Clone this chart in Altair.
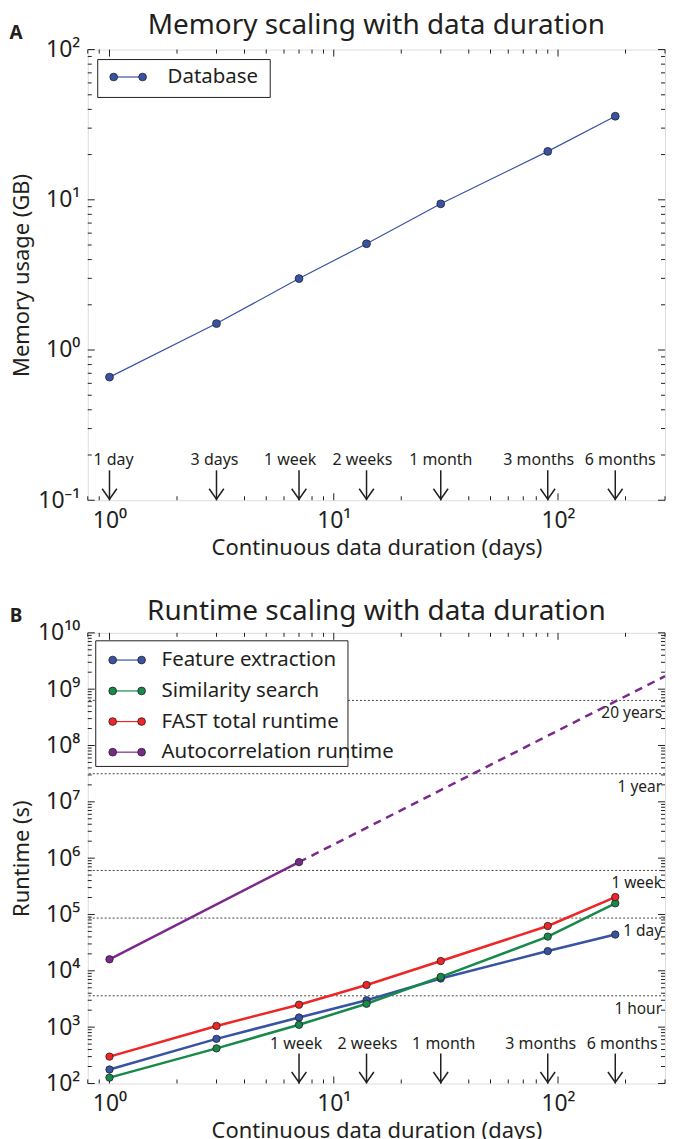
import altair as alt
import pandas as pd

# ---------------- data ----------------
days = [1, 3, 7, 14, 30, 90, 180]
duration_labels = ["1 day", "3 days", "1 week", "2 weeks", "1 month", "3 months", "6 months"]
memory_gb = [0.66, 1.50, 2.99, 5.1, 9.4, 21.0, 36.0]

feature_extraction_s = [177, 620, 1480, 3000, 7300, 22400, 44000]
similarity_search_s = [127, 420, 1100, 2600, 7800, 40500, 158000]
fast_total_s = [300, 1050, 2500, 5600, 14900, 62500, 204000]
autocorr_days = [1, 7]
autocorr_s = [1.6e4, 8.5e5]
autocorr_extrap_days = [7, 300]
autocorr_extrap_s = [8.5e5, 1.7e9]

series_names = ["Feature extraction", "Similarity search", "FAST total runtime", "Autocorrelation runtime"]
series_colors = ["#3953a4", "#17894a", "#ee2626", "#7b2a8b"]

b_arrow_days = [7, 14, 30, 90, 180]
b_arrow_labels = ["1 week", "2 weeks", "1 month", "3 months", "6 months"]

ref_labels = ["1 hour", "1 day", "1 week", "1 year", "20 years"]
ref_seconds = [3600, 86400, 604800, 31557600, 631152000]

x_major = [1, 10, 100]
ya_major = [0.1, 1, 10, 100]
yb_major = [1e2, 1e3, 1e4, 1e5, 1e6, 1e7, 1e8, 1e9, 1e10]

# ---------------- style / layout ----------------
FONT = "Noto Sans"
TXT = "#231f20"
AX = "#231f20"
EDGE = "#222222"
W, H = 579, 452
MAJ, MIN = 7, 4
# horizontal nudges (px) of the arrow captions, as in the original figure
a_label_dx = [4, -2, -9, -4, 0, -9, 5]
b_label_dx = [-3, 1, 3, -7, 7]


def minor_ticks(lo, hi, kmin, kmax):
    out = []
    for k in range(kmin, kmax + 1):
        for m in range(2, 10):
            v = m * 10.0 ** k
            if lo <= v <= hi:
                out.append(v)
    return out


x_minor = minor_ticks(0.8, 300, -1, 2)
ya_minor = minor_ticks(0.1, 100, -1, 1)
yb_minor = minor_ticks(1e2, 1e10, 2, 9)

SUP = {"-": "\u207b", "0": "\u2070", "1": "\u00b9", "2": "\u00b2", "3": "\u00b3",
       "4": "\u2074", "5": "\u2075", "6": "\u2076", "7": "\u2077", "8": "\u2078", "9": "\u2079"}


def sup_label(e):
    return "10" + "".join(SUP[c] for c in str(e))


label_expr = "".join(
    f"round(log(datum.value)/LN10) == {e} ? '{sup_label(e)}' : " for e in range(-1, 11)
) + "datum.label"

xs = alt.Scale(type="log", domain=[0.8, 300], nice=False)
ysa = alt.Scale(type="log", domain=[0.1, 100], nice=False)
ysb = alt.Scale(type="log", domain=[1e2, 1e10], nice=False)


def make_axis(title, values, orient):
    return alt.Axis(
        title=title, values=values, labelExpr=label_expr, ticks=False, domain=False,
        grid=False, labelFont=FONT, titleFont=FONT, labelFontSize=23, titleFontSize=22,
        labelColor=TXT, titleColor=TXT, titleFontWeight="normal",
        labelPadding=8 if orient == "y" else 9, titlePadding=4 if orient == "y" else 5,
        labelFlush=False, labelOverlap=False,
    )


x_axis = make_axis("Continuous data duration (days)", x_major, "x")
ya_axis = make_axis("Memory usage (GB)", ya_major, "y")
yb_axis = make_axis("Runtime (s)", yb_major, "y")


def X(f):
    return alt.X(f, type="quantitative", scale=xs, axis=x_axis)


def tick_layers(Y, xmaj, xmin, ymaj, ymin):
    layers = []
    for vals, L in [(xmaj, MAJ), (xmin, MIN)]:
        d = pd.DataFrame({"v": vals})
        layers.append(alt.Chart(d).mark_rule(color=AX, strokeWidth=1).encode(
            x=X("v"), y=alt.value(H), y2=alt.value(H - L)))
        layers.append(alt.Chart(d).mark_rule(color=AX, strokeWidth=1).encode(
            x=X("v"), y=alt.value(0), y2=alt.value(L)))
    for vals, L in [(ymaj, MAJ), (ymin, MIN)]:
        d = pd.DataFrame({"v": vals})
        layers.append(alt.Chart(d).mark_rule(color=AX, strokeWidth=1).encode(
            y=Y("v"), x=alt.value(0), x2=alt.value(L)))
        layers.append(alt.Chart(d).mark_rule(color=AX, strokeWidth=1).encode(
            y=Y("v"), x=alt.value(W), x2=alt.value(W - L)))
    return layers


ARROW = "M -0.7 -1 L 0 0 L 0.7 -1"


def arrow_layers(xvals, labels, nudges):
    d = pd.DataFrame({"day": xvals, "label": labels})
    layers = [
        alt.Chart(d).mark_rule(color=AX, strokeWidth=1.5).encode(
            x=X("day"), y=alt.value(H - 30), y2=alt.value(H)),
        alt.Chart(d).mark_point(shape=ARROW, filled=False, stroke=AX, strokeWidth=1.5,
                                size=440, opacity=1).encode(x=X("day"), y=alt.value(H - 1)),
    ]
    for i, nd in enumerate(nudges):
        layers.append(
            alt.Chart(d.iloc[[i]]).mark_text(font=FONT, fontSize=16, color=TXT, baseline="middle",
                                             dx=nd).encode(
                x=X("day"), y=alt.value(H - 40), text="label:N"))
    return layers


def legend_layers(names, colors, box, rows_y, mx, tx):
    one = pd.DataFrame({"k": [0]})
    layers = [alt.Chart(one).mark_rect(fill="white", stroke=AX, strokeWidth=1).encode(
        x=alt.value(box[0]), x2=alt.value(box[1]), y=alt.value(box[2]), y2=alt.value(box[3]))]
    for name, col, yy in zip(names, colors, rows_y):
        d = pd.DataFrame({"name": [name]})
        layers.append(alt.Chart(d).mark_rule(color=col, strokeWidth=1.2).encode(
            x=alt.value(mx[0]), x2=alt.value(mx[1]), y=alt.value(yy)))
        for m in mx:
            layers.append(alt.Chart(d).mark_circle(color=col, stroke=EDGE, strokeWidth=0.8,
                                                   size=60, opacity=1).encode(
                x=alt.value(m), y=alt.value(yy)))
        layers.append(alt.Chart(d).mark_text(align="left", baseline="middle", font=FONT,
                                             fontSize=20.5, color=TXT).encode(
            x=alt.value(tx), y=alt.value(yy), text="name:N"))
    return layers


def heading(letter, title, base_y):
    d = pd.DataFrame({"letter": [letter], "title": [title]})
    return [
        alt.Chart(d).mark_text(font=FONT, fontSize=19, fontWeight="bold", color=TXT,
                               baseline="middle", align="center").encode(
            x=alt.value(-72), y=alt.value(-17), text="letter:N"),
        alt.Chart(d).mark_text(font=FONT, fontSize=28, color=TXT, baseline="alphabetic",
                               align="center").encode(
            x=alt.value(W / 2), y=alt.value(base_y), text="title:N"),
    ]


# ---------------- panel A ----------------
def YA(f):
    return alt.Y(f, type="quantitative", scale=ysa, axis=ya_axis)


dfa = pd.DataFrame({"day": days, "mem": memory_gb})
line_a = alt.Chart(dfa).mark_line(color=series_colors[0], strokeWidth=1.2).encode(x=X("day"), y=YA("mem"))
pts_a = alt.Chart(dfa).mark_circle(color=series_colors[0], stroke=EDGE, strokeWidth=0.8,
                                   size=62, opacity=1).encode(x=X("day"), y=YA("mem"))

panel_a = alt.layer(
    *tick_layers(YA, x_major, x_minor, ya_major, ya_minor),
    line_a, pts_a,
    *arrow_layers(days, duration_labels, a_label_dx),
    *legend_layers(["Database"], [series_colors[0]], (10, 183, 10, 48), [27.5], (26, 55), 80),
    *heading("A", "Memory scaling with data duration", -16),
).properties(width=W, height=H)

# ---------------- panel B ----------------
def YB(f):
    return alt.Y(f, type="quantitative", scale=ysb, axis=yb_axis)


dfb = pd.concat([
    pd.DataFrame({"day": days, "runtime": feature_extraction_s, "series": series_names[0]}),
    pd.DataFrame({"day": days, "runtime": similarity_search_s, "series": series_names[1]}),
    pd.DataFrame({"day": days, "runtime": fast_total_s, "series": series_names[2]}),
    pd.DataFrame({"day": autocorr_days, "runtime": autocorr_s, "series": series_names[3]}),
], ignore_index=True)
color_b = alt.Color("series:N", scale=alt.Scale(domain=series_names, range=series_colors), legend=None)

dfe = pd.DataFrame({"day": autocorr_extrap_days, "runtime": autocorr_extrap_s})
dfr = pd.DataFrame({"sec": ref_seconds, "label": ref_labels})

ref_lines = alt.Chart(dfr).mark_rule(color="#444444", strokeWidth=1, strokeDash=[2, 2]).encode(y=YB("sec"))
ref_text = alt.Chart(dfr).mark_text(font=FONT, fontSize=15.5, color=TXT, align="right",
                                    baseline="middle", dx=-3, dy=13).encode(
    y=YB("sec"), x=alt.value(W), text="label:N")
extrap = alt.Chart(dfe).mark_line(color=series_colors[3], strokeWidth=2.5, strokeDash=[8, 6]).encode(
    x=X("day"), y=YB("runtime"))
lines_b = alt.Chart(dfb).mark_line(strokeWidth=2.5).encode(x=X("day"), y=YB("runtime"), color=color_b)
pts_b = alt.Chart(dfb).mark_circle(stroke=EDGE, strokeWidth=0.8, size=55, opacity=1).encode(
    x=X("day"), y=YB("runtime"), color=color_b)

panel_b = alt.layer(
    *tick_layers(YB, x_major, x_minor, yb_major, yb_minor),
    ref_lines, ref_text, extrap, lines_b, pts_b,
    *arrow_layers(b_arrow_days, b_arrow_labels, b_label_dx),
    *legend_layers(series_names, series_colors, (8, 261, 8, 134), [27.3, 58.3, 89, 119.7], (25, 54), 74),
    *heading("B", "Runtime scaling with data duration", -13),
).properties(width=W, height=H)

chart = alt.vconcat(panel_a, panel_b, spacing=38).properties(
    padding={"left": 0, "top": 1, "right": 0, "bottom": 0}
).configure_view(stroke=AX, strokeWidth=1).configure(font=FONT)

chart.save("out.html", embed_options={"renderer": "svg", "actions": False})
